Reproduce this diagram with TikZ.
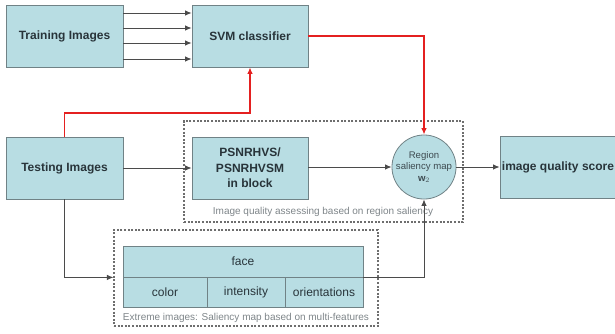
\documentclass[tikz,border=0pt]{standalone}
\usepackage{fontspec}
\setmainfont{Liberation Sans}
\usetikzlibrary{arrows.meta}

\definecolor{boxfill}{RGB}{184,221,227}
\definecolor{boxline}{RGB}{112,130,134}
\definecolor{boxtext}{RGB}{40,52,58}
\definecolor{linkgray}{RGB}{75,75,75}
\definecolor{linkred}{RGB}{228,32,32}
\definecolor{dashgray}{RGB}{110,110,110}

\tikzset{
    stagebox/.style={draw=boxline, fill=boxfill, line width=0.8pt, inner sep=2pt,
        minimum width=116pt, minimum height=62pt, align=center,
        text=boxtext, font=\fontsize{12}{15.5}\selectfont\bfseries},
    cellbox/.style={draw=boxline, fill=boxfill, line width=0.8pt, inner sep=0pt,
        minimum height=30pt, text=boxtext, font=\fontsize{12}{14}\selectfont},
    mapnode/.style={circle, draw=boxline, fill=boxfill, line width=0.8pt, inner sep=0pt,
        minimum size=62pt, align=center, text=boxtext!70!boxline,
        font=\fontsize{9.6}{11.5}\selectfont},
    groupbox/.style={draw=dashgray, line width=1.1pt, dash pattern=on 2pt off 1.6pt,
        inner sep=0pt},
    grouplabel/.style={text=boxtext!60!white, font=\fontsize{10}{12}\selectfont, inner sep=0pt},
    link/.style={draw=linkgray, line width=0.9pt, -{Latex[length=6.5pt,width=5.5pt]}},
    redlink/.style={draw=linkred, line width=1.2pt, -{Latex[length=6.5pt,width=5.5pt]}}
}

\begin{document}
\begin{tikzpicture}[x=1pt, y=-1pt]

    \useasboundingbox (0, 0) rectangle (615, 333);

    % dashed groups
    \node[groupbox, minimum width=279pt, minimum height=101pt] (assess) at (323.5, 171.5) {};
    \node[grouplabel] (assesslabel) at (323, 212) {Image quality assessing based on region saliency};
    \node[groupbox, minimum width=264pt, minimum height=96pt] (extreme) at (246, 278) {};
    \node[grouplabel] (extremelabel) at (246, 318) {Extreme images: Saliency map based on multi-features};

    % top row
    \node[stagebox, minimum width=117pt] (train) at (64.5, 36) {Training Images};
    \node[stagebox] (svm) at (250, 36) {SVM classifier};

    % middle row
    \node[stagebox, minimum width=117pt] (test) at (64.5, 168) {Testing Images};
    \node[stagebox] (psnr) at (250, 168) {PSNRHVS/\\PSNRHVSM\\in block};
    \node[mapnode] (rsm) at (424, 167) {Region\\saliency map\\$\mathbf{w}_2$};
    \node[stagebox, minimum width=112pt] (score) at (558, 167.5) {image quality score};

    % feature table
    \node[cellbox, minimum width=240pt, minimum height=31pt] (face) at (243, 261.5) {face};
    \node[cellbox, minimum width=84pt] (color) at (165, 292) {color};
    \node[cellbox, minimum width=78pt] (intensity) at (246, 292) {intensity};
    \node[cellbox, minimum width=78pt] (orient) at (324, 292) {orientations};

    % training samples
    \foreach \y in {13, 28, 43, 59}
        \draw[link] (train.east |- 0, \y) -- (svm.west |- 0, \y);

    % classifier links
    \coordinate (redturn) at (0, 113);
    \draw[redlink] (test.north) |- (redturn -| svm.south) -- (svm.south);
    \draw[redlink] (svm.east) -| (rsm.north);

    % assessment chain
    \draw[link] (test.east) -- (psnr.west);
    \draw[link] (psnr.east |- rsm.west) -- (rsm.west);
    \draw[link] (rsm.east) -- (score.west |- rsm.east);

    % saliency features
    \draw[link] (test.south) |- (extreme.west |- face.south);
    \draw[link] (face.south east) -| (rsm.south);

\end{tikzpicture}
\end{document}
